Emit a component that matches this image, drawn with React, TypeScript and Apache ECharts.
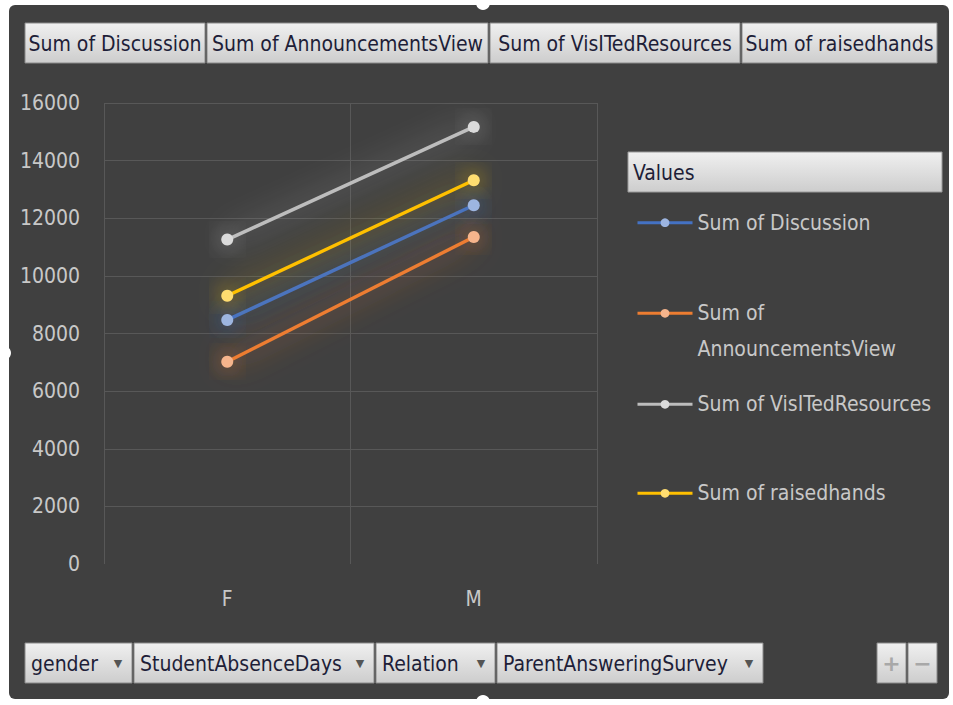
import React, { useEffect, useRef } from "react";
import * as echarts from "echarts";

// ---- data ----
const categories = ["F", "M"];
const seriesNames = [
  "Sum of Discussion",
  "Sum of AnnouncementsView",
  "Sum of VisITedResources",
  "Sum of raisedhands",
];
const discussion = [8470, 12450];
const announcementsView = [7020, 11350];
const visitedResources = [11260, 15170];
const raisedHands = [9310, 13320];
const yMin = 0;
const yMax = 16000;
const yInterval = 2000;
const bottomFields = ["gender", "StudentAbsenceDays", "Relation", "ParentAnsweringSurvey"];
const legendTitle = "Values";

// ---- styles / layout ----
const lineColors = ["#4472C4", "#ED7D31", "#BDBDBD", "#FFC000"];
const markerColors = ["#9DB5E0", "#F6B58C", "#DADADA", "#FFDD70"];
const glowColors = [
  "rgba(68,114,196,1)",
  "rgba(237,125,49,1)",
  "rgba(215,215,215,0.7)",
  "rgba(255,200,0,0.95)",
];
const FONT_FAMILY = '"Liberation Sans Narrow", "DejaVu Sans Condensed", "Arial Narrow", sans-serif';
const FS = 21;
const topEdges = [25, 207, 490, 742, 939];
const bottomEdges = [
  [25, 132],
  [134, 374],
  [376, 495],
  [497, 763],
];
const legendCenters = [222.7, 313.3, 404.3, 493.3];

function buttonFill() {
  return new echarts.graphic.LinearGradient(0, 0, 0, 1, [
    { offset: 0, color: "#f0f0f0" },
    { offset: 1, color: "#cdcdcd" },
  ]);
}

export default function App() {
  const ref = useRef<HTMLDivElement>(null);

  useEffect(() => {
    if (!ref.current) return;
    const chart = echarts.init(ref.current, undefined, { renderer: "svg" });
    const values = [discussion, announcementsView, visitedResources, raisedHands];

    const graphics: any[] = [];
    graphics.push({
      type: "rect",
      z: -10,
      shape: { x: 9, y: 5, width: 940, height: 694, r: 6 },
      style: { fill: "#404040" },
    });
    [
      [483, 3],
      [483, 702],
      [4, 353],
    ].forEach(([cx, cy]) =>
      graphics.push({
        type: "circle",
        z: 100,
        shape: { cx, cy, r: 7 },
        style: { fill: "#ffffff" },
      })
    );
    seriesNames.forEach((name, i) => {
      const x0 = topEdges[i];
      const x1 = topEdges[i + 1] - 2;
      graphics.push({
        type: "rect",
        z: 100,
        shape: { x: x0, y: 23, width: x1 - x0, height: 40 },
        style: { fill: buttonFill(), stroke: "#8a8a8a", lineWidth: 1 },
      });
      graphics.push({
        type: "text",
        z: 101,
        x: (x0 + x1) / 2,
        y: 44,
        style: {
          text: name,
          fill: "#1e1e38",
          font: `${FS}px ${FONT_FAMILY}`,
          align: "center",
          verticalAlign: "middle",
          textAlign: "center",
          textVerticalAlign: "middle",
        },
      });
    });
    graphics.push({
      type: "rect",
      z: 100,
      shape: { x: 628, y: 152, width: 314, height: 40 },
      style: { fill: buttonFill(), stroke: "#9a9a9a", lineWidth: 1 },
    });
    graphics.push({
      type: "text",
      z: 101,
      x: 633,
      y: 173,
      style: {
        text: legendTitle,
        fill: "#1e1e38",
        font: `${FS}px ${FONT_FAMILY}`,
        align: "left",
        verticalAlign: "middle",
        textAlign: "left",
        textVerticalAlign: "middle",
      },
    });
    bottomFields.forEach((name, i) => {
      const [x0, x1] = bottomEdges[i];
      graphics.push({
        type: "rect",
        z: 100,
        shape: { x: x0, y: 643, width: x1 - x0, height: 40 },
        style: { fill: buttonFill(), stroke: "#8a8a8a", lineWidth: 1 },
      });
      graphics.push({
        type: "text",
        z: 101,
        x: x0 + 6,
        y: 664,
        style: {
          text: name,
          fill: "#1e1e38",
          font: `${FS}px ${FONT_FAMILY}`,
          align: "left",
          verticalAlign: "middle",
          textAlign: "left",
          textVerticalAlign: "middle",
        },
      });
      graphics.push({
        type: "text",
        z: 101,
        x: x1 - 14,
        y: 663,
        style: {
          text: "▼",
          fill: "#555555",
          font: `11px "DejaVu Sans", sans-serif`,
          align: "center",
          verticalAlign: "middle",
          textAlign: "center",
          textVerticalAlign: "middle",
        },
      });
    });
    [
      [877, 906, "+"],
      [908, 937, "−"],
    ].forEach(([x0, x1, t]: any) => {
      graphics.push({
        type: "rect",
        z: 100,
        shape: { x: x0, y: 643, width: x1 - x0, height: 40 },
        style: { fill: buttonFill(), stroke: "#8a8a8a", lineWidth: 1 },
      });
      graphics.push({
        type: "text",
        z: 101,
        x: (x0 + x1) / 2,
        y: 663,
        style: {
          text: t,
          fill: "#a8a8a8",
          font: `bold 22px "DejaVu Sans", sans-serif`,
          align: "center",
          verticalAlign: "middle",
          textAlign: "center",
          textVerticalAlign: "middle",
        },
      });
    });

    const legends = seriesNames.map((name, i) => {
      const multiline = i === 1;
      const lh = 36;
      return {
        data: [name],
        left: 636,
        top: multiline ? legendCenters[i] - lh * 1.5 : legendCenters[i] - lh / 2,
        orient: "vertical",
        padding: 0,
        itemGap: 0,
        itemWidth: 55,
        itemHeight: 11,
        selectedMode: false,
        lineStyle: { width: 3 },
        formatter: multiline ? (n: string) => "\n" + n.replace("Sum of ", "Sum of\n") : "{name}",
        textStyle: {
          color: "#c8c8c8",
          fontSize: FS,
          fontFamily: FONT_FAMILY,
          lineHeight: lh,
        },
      };
    });

    chart.setOption({
      animation: false,
      backgroundColor: "#ffffff",
      graphic: graphics,
      legend: legends,
      grid: { left: 104, right: 356, top: 103, bottom: 141, containLabel: false },
      xAxis: {
        type: "category",
        data: categories,
        boundaryGap: true,
        axisLine: { show: false },
        axisTick: { show: false },
        axisLabel: { color: "#c8c8c8", fontSize: FS, fontFamily: FONT_FAMILY, margin: 24 },
        splitLine: { show: true, lineStyle: { color: "#585858", width: 1 } },
      },
      yAxis: {
        type: "value",
        min: yMin,
        max: yMax,
        interval: yInterval,
        axisLine: { show: false },
        axisTick: { show: false },
        axisLabel: {
          color: "#c8c8c8",
          fontSize: FS,
          fontFamily: FONT_FAMILY,
          margin: 24,
          formatter: (v: number) => String(v),
        },
        splitLine: { show: true, showMinLine: false, lineStyle: { color: "#585858", width: 1 } },
      },
      series: seriesNames.map((name, i) => ({
        name,
        type: "line",
        data: values[i],
        color: lineColors[i],
        symbol: "circle",
        symbolSize: 12,
        showSymbol: true,
        lineStyle: {
          width: 3.5,
          color: lineColors[i],
          shadowBlur: 30,
          shadowColor: glowColors[i],
        },
        itemStyle: {
          color: markerColors[i],
          borderWidth: 0,
          shadowBlur: 22,
          shadowColor: glowColors[i],
        },
      })),
    });
    return () => chart.dispose();
  }, []);

  return (
    <div
      ref={ref}
      style={{ position: "fixed", left: 0, top: 0, width: 953, height: 705, background: "#ffffff" }}
    />
  );
}
